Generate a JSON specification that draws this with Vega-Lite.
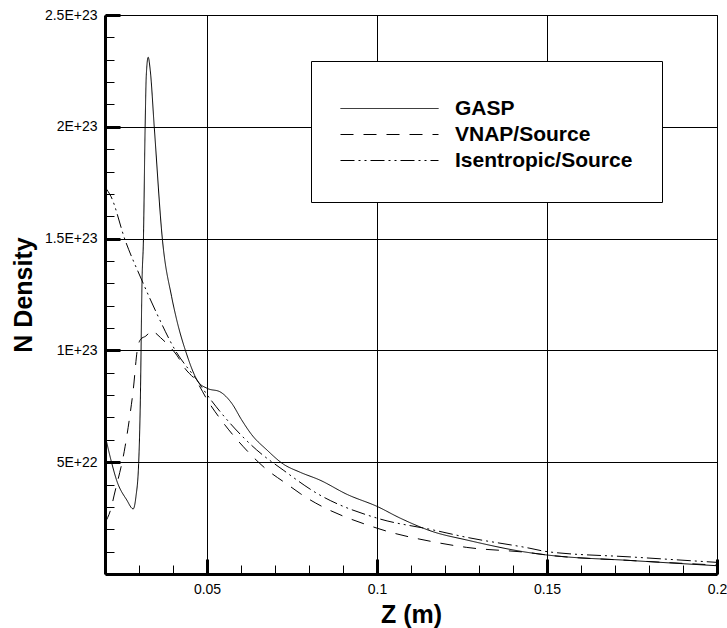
{
  "$schema": "https://vega.github.io/schema/vega-lite/v6.json",
  "width": 612,
  "height": 559,
  "autosize": "none",
  "padding": {"left": 105, "top": 15, "right": 10, "bottom": 54},
  "background": "white",
  "config": {
    "font": "Liberation Sans",
    "view": {"stroke": "black", "strokeWidth": 1}
  },
  "data": {
    "values": [
      {"series": "GASP", "z": 0.02, "n": 6.22e22},
      {"series": "GASP", "z": 0.022, "n": 4.95e22},
      {"series": "GASP", "z": 0.0234, "n": 4.2e22},
      {"series": "GASP", "z": 0.0264, "n": 3.31e22},
      {"series": "GASP", "z": 0.0283, "n": 2.91e22},
      {"series": "GASP", "z": 0.0291, "n": 3.46e22},
      {"series": "GASP", "z": 0.0299, "n": 4.95e22},
      {"series": "GASP", "z": 0.0304, "n": 7.78e22},
      {"series": "GASP", "z": 0.0309, "n": 1.315e23},
      {"series": "GASP", "z": 0.0313, "n": 1.494e23},
      {"series": "GASP", "z": 0.0318, "n": 1.996e23},
      {"series": "GASP", "z": 0.03215, "n": 2.232e23},
      {"series": "GASP", "z": 0.0327, "n": 2.311e23},
      {"series": "GASP", "z": 0.0333, "n": 2.254e23},
      {"series": "GASP", "z": 0.0345, "n": 1.996e23},
      {"series": "GASP", "z": 0.0369, "n": 1.494e23},
      {"series": "GASP", "z": 0.0396, "n": 1.24e23},
      {"series": "GASP", "z": 0.0411, "n": 1.136e23},
      {"series": "GASP", "z": 0.0438, "n": 9.93e22},
      {"series": "GASP", "z": 0.0474, "n": 8.6e22},
      {"series": "GASP", "z": 0.0501, "n": 8.3e22},
      {"series": "GASP", "z": 0.0538, "n": 8.15e22},
      {"series": "GASP", "z": 0.0573, "n": 7.63e22},
      {"series": "GASP", "z": 0.0602, "n": 6.89e22},
      {"series": "GASP", "z": 0.0632, "n": 6.22e22},
      {"series": "GASP", "z": 0.0676, "n": 5.55e22},
      {"series": "GASP", "z": 0.0724, "n": 4.92e22},
      {"series": "GASP", "z": 0.0774, "n": 4.55e22},
      {"series": "GASP", "z": 0.0832, "n": 4.2e22},
      {"series": "GASP", "z": 0.0912, "n": 3.56e22},
      {"series": "GASP", "z": 0.1002, "n": 3.01e22},
      {"series": "GASP", "z": 0.1068, "n": 2.5e22},
      {"series": "GASP", "z": 0.1165, "n": 1.89e22},
      {"series": "GASP", "z": 0.1264, "n": 1.52e22},
      {"series": "GASP", "z": 0.145, "n": 9.5e21},
      {"series": "GASP", "z": 0.15, "n": 8.5e21},
      {"series": "GASP", "z": 0.175, "n": 6.0e21},
      {"series": "GASP", "z": 0.2, "n": 3.7e21},

      {"series": "VNAP/Source", "z": 0.02, "n": 2.3e22},
      {"series": "VNAP/Source", "z": 0.0218, "n": 2.95e22},
      {"series": "VNAP/Source", "z": 0.0227, "n": 3.53e22},
      {"series": "VNAP/Source", "z": 0.0259, "n": 5.69e22},
      {"series": "VNAP/Source", "z": 0.0272, "n": 6.96e22},
      {"series": "VNAP/Source", "z": 0.0283, "n": 8.23e22},
      {"series": "VNAP/Source", "z": 0.0295, "n": 1.002e23},
      {"series": "VNAP/Source", "z": 0.0305, "n": 1.05e23},
      {"series": "VNAP/Source", "z": 0.032, "n": 1.064e23},
      {"series": "VNAP/Source", "z": 0.034, "n": 1.091e23},
      {"series": "VNAP/Source", "z": 0.035, "n": 1.076e23},
      {"series": "VNAP/Source", "z": 0.0386, "n": 1.024e23},
      {"series": "VNAP/Source", "z": 0.0411, "n": 9.79e22},
      {"series": "VNAP/Source", "z": 0.0435, "n": 9.2e22},
      {"series": "VNAP/Source", "z": 0.047, "n": 8.6e22},
      {"series": "VNAP/Source", "z": 0.0501, "n": 7.78e22},
      {"series": "VNAP/Source", "z": 0.0553, "n": 6.66e22},
      {"series": "VNAP/Source", "z": 0.0607, "n": 5.69e22},
      {"series": "VNAP/Source", "z": 0.0671, "n": 4.73e22},
      {"series": "VNAP/Source", "z": 0.0739, "n": 3.98e22},
      {"series": "VNAP/Source", "z": 0.0774, "n": 3.6e22},
      {"series": "VNAP/Source", "z": 0.1002, "n": 2.04e22},
      {"series": "VNAP/Source", "z": 0.1165, "n": 1.44e22},
      {"series": "VNAP/Source", "z": 0.1264, "n": 1.19e22},
      {"series": "VNAP/Source", "z": 0.145, "n": 9.5e21},
      {"series": "VNAP/Source", "z": 0.15, "n": 8.5e21},
      {"series": "VNAP/Source", "z": 0.175, "n": 6.0e21},
      {"series": "VNAP/Source", "z": 0.2, "n": 4.0e21},

      {"series": "Isentropic/Source", "z": 0.02, "n": 1.73e23},
      {"series": "Isentropic/Source", "z": 0.0218, "n": 1.687e23},
      {"series": "Isentropic/Source", "z": 0.0259, "n": 1.494e23},
      {"series": "Isentropic/Source", "z": 0.0308, "n": 1.315e23},
      {"series": "Isentropic/Source", "z": 0.0352, "n": 1.166e23},
      {"series": "Isentropic/Source", "z": 0.0406, "n": 1.002e23},
      {"series": "Isentropic/Source", "z": 0.047, "n": 8.68e22},
      {"series": "Isentropic/Source", "z": 0.0501, "n": 8.0e22},
      {"series": "Isentropic/Source", "z": 0.0568, "n": 6.74e22},
      {"series": "Isentropic/Source", "z": 0.0646, "n": 5.55e22},
      {"series": "Isentropic/Source", "z": 0.0724, "n": 4.65e22},
      {"series": "Isentropic/Source", "z": 0.0823, "n": 3.61e22},
      {"series": "Isentropic/Source", "z": 0.1002, "n": 2.49e22},
      {"series": "Isentropic/Source", "z": 0.1165, "n": 1.97e22},
      {"series": "Isentropic/Source", "z": 0.1264, "n": 1.64e22},
      {"series": "Isentropic/Source", "z": 0.145, "n": 1.15e22},
      {"series": "Isentropic/Source", "z": 0.15, "n": 1.0e22},
      {"series": "Isentropic/Source", "z": 0.175, "n": 7.6e21},
      {"series": "Isentropic/Source", "z": 0.2, "n": 5.2e21}
    ]
  },
  "layer": [
    {
      "mark": {"type": "line", "opacity": 0},
      "encoding": {
        "x": {
          "field": "z",
          "type": "quantitative",
          "scale": {"domain": [0.02, 0.2], "nice": false, "zero": false},
          "axis": {
            "orient": "bottom",
            "title": null,
            "values": [0.03, 0.04, 0.06, 0.07, 0.08, 0.09, 0.11, 0.12, 0.13, 0.14, 0.16, 0.17, 0.18, 0.19],
            "labels": false,
            "domain": false,
            "grid": false,
            "tickColor": "black",
            "tickSize": -9,
            "tickWidth": 1
          }
        },
        "y": {
          "field": "n",
          "type": "quantitative",
          "scale": {"domain": [0, 2.5e23], "nice": false},
          "axis": {
            "orient": "left",
            "title": null,
            "values": [1e22, 2e22, 3e22, 4e22, 6e22, 7e22, 8e22, 9e22, 1.1e23, 1.2e23, 1.3e23, 1.4e23, 1.6e23, 1.7e23, 1.8e23, 1.9e23, 2.1e23, 2.2e23, 2.3e23, 2.4e23],
            "labels": false,
            "domain": false,
            "grid": false,
            "tickColor": "black",
            "tickSize": -9,
            "tickWidth": 1
          }
        },
        "detail": {"field": "series", "type": "nominal"}
      }
    },
    {
      "mark": {"type": "line", "interpolate": "monotone", "color": "black", "strokeWidth": 1},
      "encoding": {
        "x": {
          "field": "z",
          "type": "quantitative",
          "axis": {
            "orient": "bottom",
            "title": "Z (m)",
            "titleFontSize": 25,
            "titleFontWeight": "bold",
            "titleColor": "black",
            "titlePadding": 6,
            "values": [0.05, 0.1, 0.15, 0.2],
            "format": ".2~f",
            "labelFontSize": 14,
            "labelColor": "black",
            "labelPadding": 23,
            "labelFlush": false,
            "labelOverlap": false,
            "domainColor": "black",
            "domainWidth": 3,
            "tickColor": "black",
            "tickSize": -15,
            "tickWidth": 3,
            "grid": true,
            "gridColor": "black",
            "gridWidth": 1
          }
        },
        "y": {
          "field": "n",
          "type": "quantitative",
          "axis": {
            "orient": "left",
            "title": "N Density",
            "titleFontSize": 25,
            "titleFontWeight": "bold",
            "titleColor": "black",
            "titlePadding": 8,
            "values": [5e22, 1e23, 1.5e23, 2e23, 2.5e23],
            "labelExpr": "upper(format(datum.value, '.2~e'))",
            "labelFontSize": 14,
            "labelColor": "black",
            "labelPadding": 23,
            "labelFlush": false,
            "labelOverlap": false,
            "domainColor": "black",
            "domainWidth": 3,
            "tickColor": "black",
            "tickSize": -15,
            "tickWidth": 3,
            "grid": true,
            "gridColor": "black",
            "gridWidth": 1
          }
        },
        "strokeDash": {
          "field": "series",
          "type": "nominal",
          "scale": {
            "domain": ["GASP", "VNAP/Source", "Isentropic/Source"],
            "range": [[1, 0], [13, 10], [14, 4, 2, 4, 2, 4]]
          },
          "legend": {
            "title": " ",
            "titleFontSize": 5,
            "titlePadding": 1,
            "orient": "none",
            "legendX": 206,
            "legendY": 46,
            "symbolType": "stroke",
            "symbolSize": 9604,
            "symbolStrokeWidth": 1,
            "symbolStrokeColor": "black",
            "clipHeight": 25,
            "rowPadding": 1,
            "labelFontSize": 21,
            "labelFontWeight": "bold",
            "labelColor": "black",
            "labelOffset": 16,
            "labelLimit": 220,
            "padding": 29,
            "strokeColor": "black",
            "fillColor": "white"
          }
        }
      }
    }
  ],
  "resolve": {"axis": {"x": "independent", "y": "independent"}}
}
